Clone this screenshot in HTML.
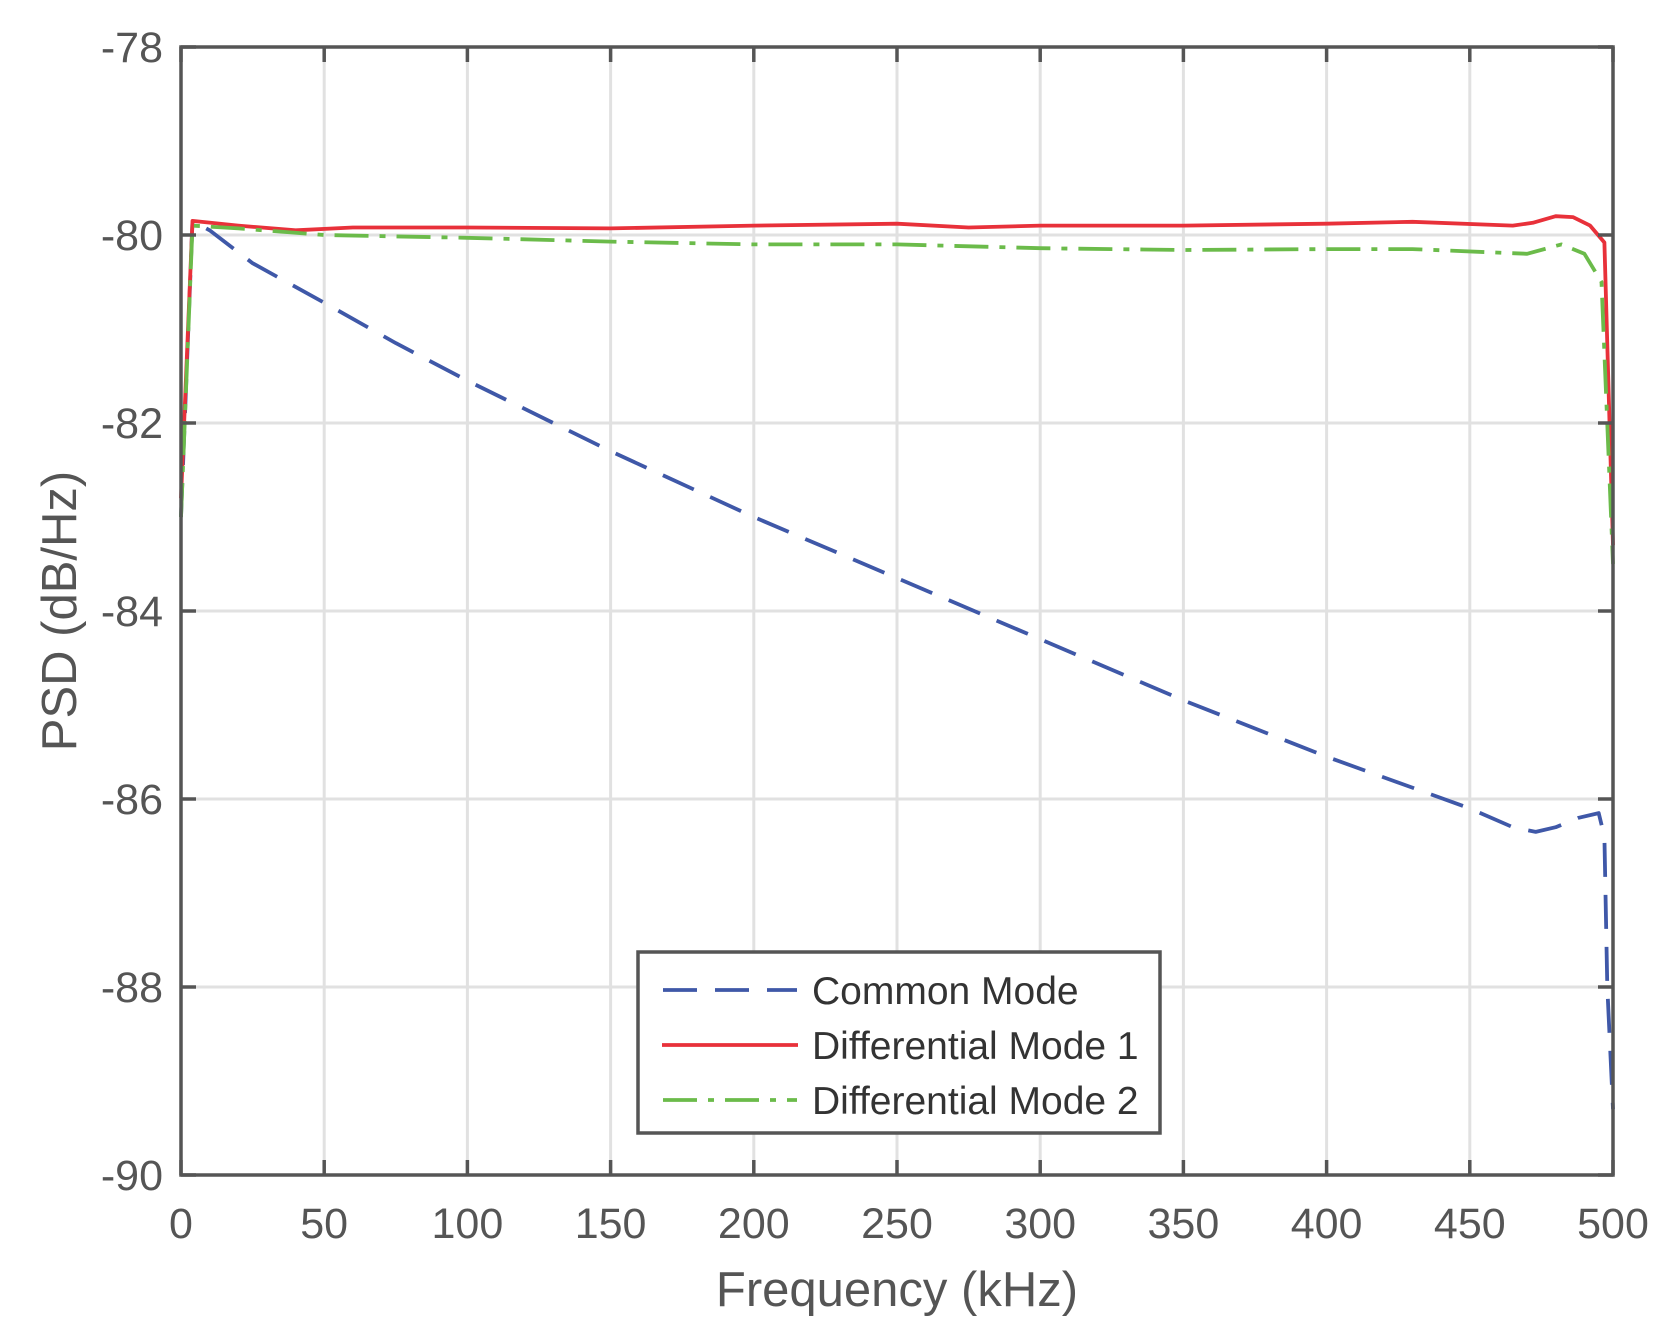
<!DOCTYPE html>
<html><head><meta charset="utf-8"><style>
html,body{margin:0;padding:0;background:#fff;}
svg{display:block;font-family:"Liberation Sans",Arial,sans-serif;}
</style></head><body>
<svg id="s" width="1670" height="1342" viewBox="0 0 1670 1342" xmlns="http://www.w3.org/2000/svg">
<rect width="1670" height="1342" fill="#fff"/>
<g id="grid" stroke="#e1e1e1" stroke-width="3"></g>
<g id="series" fill="none" stroke-width="3.8" stroke-linejoin="round"></g>
<rect x="181" y="47" width="1432" height="1128" fill="none" stroke="#555" stroke-width="3.5"/>
<g id="ticks" stroke="#555" stroke-width="3.5"></g>
<g id="labels" fill="#555" font-size="43"></g>
<text x="897" y="1306" text-anchor="middle" font-size="49" fill="#555">Frequency (kHz)</text>
<text transform="translate(76,611) rotate(-90)" text-anchor="middle" font-size="49" fill="#555">PSD (dB/Hz)</text>
<g transform="translate(-4,-4)">
<rect x="642" y="956" width="522" height="181" fill="#fff" stroke="#555" stroke-width="3.5"/>
<line x1="667" y1="994" x2="801" y2="994" stroke="#3f58a8" stroke-width="3.8" stroke-dasharray="34,18"/>
<line x1="666" y1="1049" x2="802" y2="1049" stroke="#e8313a" stroke-width="3.8"/>
<line x1="667" y1="1104" x2="801" y2="1104" stroke="#6bbb4a" stroke-width="3.8" stroke-dasharray="34,11,6,11"/>
<g font-size="39" fill="#333">
<text x="816" y="1008">Common Mode</text>
<text x="816" y="1063">Differential Mode 1</text>
<text x="816" y="1118">Differential Mode 2</text>
</g>
</g>
</svg>
<script>
var NS="http://www.w3.org/2000/svg";
function X(f){return 181+f*2.864;}
function Y(v){return 47+(-78-v)*94;}
function el(p,t,a,txt){var e=document.createElementNS(NS,t);for(var k in a)e.setAttribute(k,a[k]);if(txt!=null)e.textContent=txt;document.getElementById(p).appendChild(e);}
for(var i=1;i<10;i++){var x=X(i*50);el("grid","line",{x1:x,y1:47,x2:x,y2:1175});}
for(var v=-80;v>=-88;v-=2){var y=Y(v);el("grid","line",{x1:181,y1:y,x2:1613,y2:y});}
for(var i=0;i<=10;i++){var x=X(i*50);el("ticks","line",{x1:x,y1:1175,x2:x,y2:1160});el("ticks","line",{x1:x,y1:47,x2:x,y2:62});
el("labels","text",{x:x,y:1238,"text-anchor":"middle"},String(i*50));}
for(var v=-78;v>=-90;v-=2){var y=Y(v);el("ticks","line",{x1:181,y1:y,x2:196,y2:y});el("ticks","line",{x1:1613,y1:y,x2:1598,y2:y});
el("labels","text",{x:163,y:y+15,"text-anchor":"end"},String(v));}
function path(pts,color,dash){var d=pts.map(function(p,i){return (i?"L":"M")+X(p[0]).toFixed(1)+","+Y(p[1]).toFixed(1);}).join(" ");
var a={d:d,stroke:color};if(dash)a["stroke-dasharray"]=dash;el("series","path",a);}
path([[0,-83],[4,-79.85],[10,-79.95],[25,-80.3],[50,-80.72],[75,-81.15],[100,-81.55],[150,-82.3],[200,-83.0],[250,-83.65],[300,-84.3],[350,-84.95],[400,-85.55],[450,-86.1],[465,-86.3],[473,-86.35],[480,-86.3],[488,-86.2],[495,-86.15],[497,-86.4],[498,-88],[500,-89.3]],"#3f58a8","34,18");
path([[0,-82.8],[4,-79.85],[20,-79.9],[40,-79.95],[60,-79.92],[100,-79.92],[150,-79.93],[200,-79.9],[250,-79.88],[275,-79.92],[300,-79.9],[350,-79.9],[400,-79.88],[430,-79.86],[465,-79.9],[472,-79.87],[480,-79.8],[486,-79.81],[492,-79.9],[497,-80.08],[500,-83.3]],"#e8313a");
path([[0,-83],[4,-79.9],[20,-79.93],[50,-80.0],[100,-80.03],[150,-80.07],[200,-80.1],[250,-80.1],[300,-80.14],[350,-80.16],[400,-80.15],[430,-80.15],[470,-80.2],[482,-80.1],[490,-80.2],[496,-80.5],[500,-83.5]],"#6bbb4a","34,11,6,11");
</script>
</body></html>
